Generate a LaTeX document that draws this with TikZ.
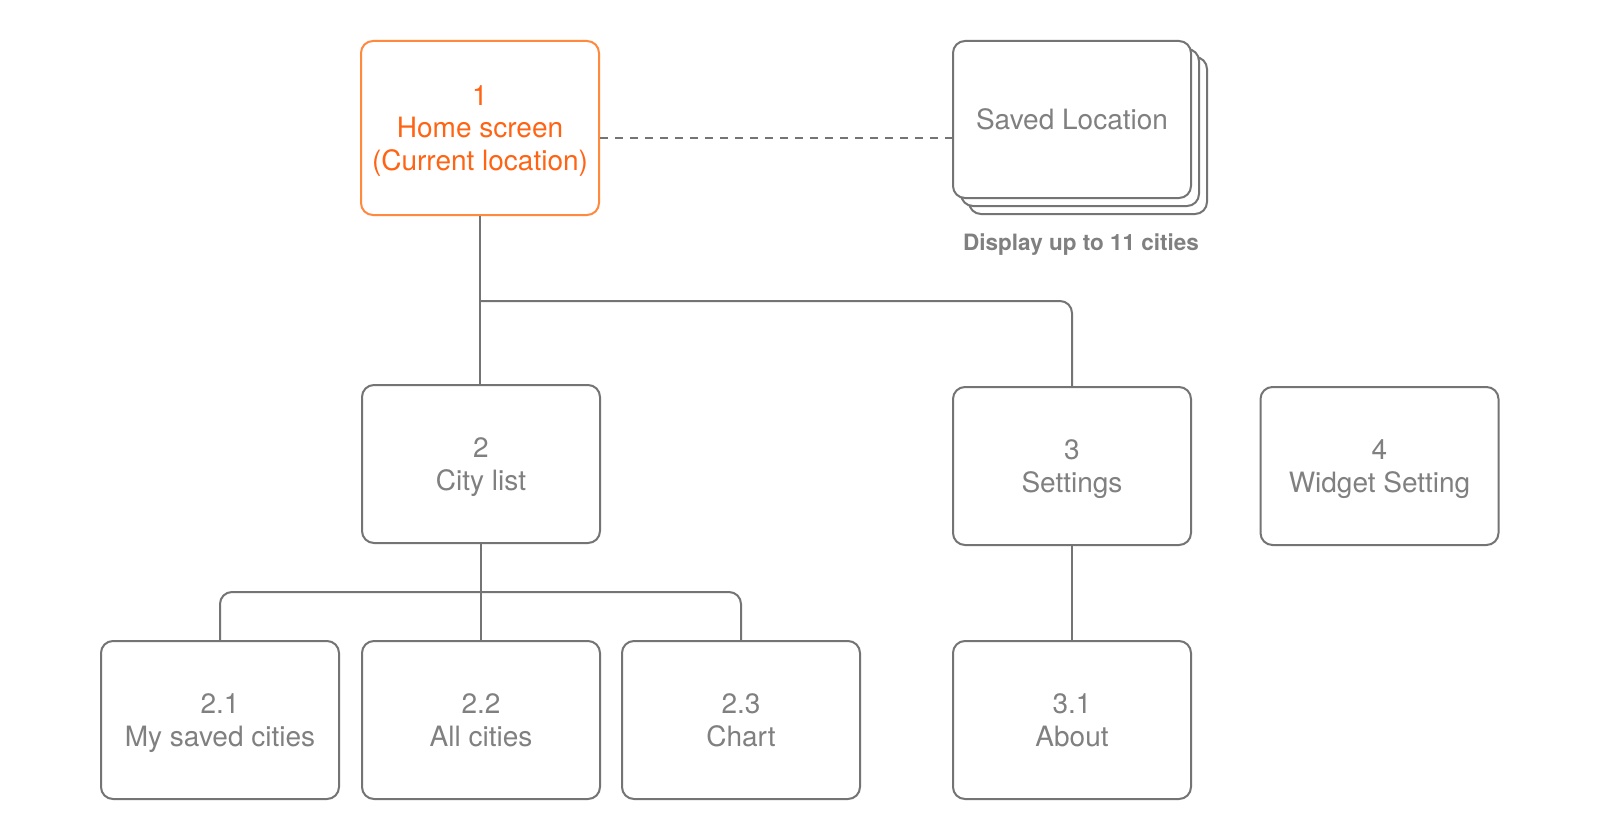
\documentclass[tikz,border=0pt]{standalone}
\usepackage{fontspec}
\setmainfont{TeX Gyre Heros}
\definecolor{lineg}{HTML}{747474}
\definecolor{textg}{HTML}{808080}
\definecolor{orline}{HTML}{FF8A3D}
\definecolor{ortext}{HTML}{FF6414}
\tikzset{
  box/.style={draw=lineg, line width=2pt, rounded corners=12pt, fill=white,
    minimum width=238pt, minimum height=158pt, inner sep=0pt, align=center,
    text depth=0pt, text=textg, font=\fontsize{28}{32.5}\selectfont},
  homebox/.style={box, draw=orline, text=ortext, minimum height=174pt},
  conn/.style={draw=lineg, line width=2pt},
  note/.style={text=textg, font=\fontsize{22.5}{26}\selectfont\bfseries, inner sep=0pt}
}
\begin{document}
\begin{tikzpicture}[x=1pt,y=-1pt]
\useasboundingbox (0,0) rectangle (1600,840);
\fill[white] (0,0) rectangle (1600,840);
% top row
\node[homebox] (home) at (480,128) {1\\Home screen\\(Current location)};
\node[box, minimum height=157pt] (savedC) at (1088,135.5) {};
\node[box, minimum height=157pt] (savedB) at (1080,127.5) {};
\node[box, minimum height=157pt] (saved) at (1072,119.5) {Saved Location};
\node[note] (disp) at (1081,245) {Display up to 11 cities};
% second row
\node[box] (city) at (481,464) {2\\City list};
\node[box] (settings) at (1072,466) {3\\Settings};
\node[box] (widget) at (1379.5,466) {4\\Widget Setting};
% third row
\node[box] (c21) at (220,720) {2.1\\My saved cities};
\node[box] (c22) at (481,720) {2.2\\All cities};
\node[box] (c23) at (741,720) {2.3\\Chart};
\node[box] (about) at (1072,720) {3.1\\About};
% connectors
\coordinate (dashy) at (0,137.7);
\coordinate (hbar) at (0,301);
\coordinate (cbar) at (0,592);
\draw[conn, dash pattern=on 8pt off 7pt] (home.east |- dashy) -- (saved.west |- dashy);
\draw[conn] (home.south) -- (home.south |- city.north);
\draw[conn, rounded corners=12pt] (home.south |- hbar) -- (settings.north |- hbar) -- (settings.north);
\draw[conn] (city.south) -- (c22.north);
\draw[conn, rounded corners=12pt] (c21.north) -- (c21.north |- cbar) -- (c23.north |- cbar) -- (c23.north);
\draw[conn] (settings.south) -- (about.north);
\end{tikzpicture}
\end{document}
